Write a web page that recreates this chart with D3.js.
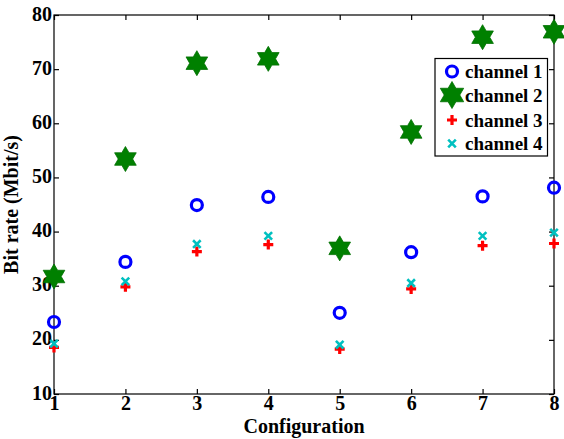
<!DOCTYPE html>
<html><head><meta charset="utf-8">
<script src="https://cdn.jsdelivr.net/npm/d3@7"></script>
<style>body{margin:0;background:#fff}svg{display:block}</style>
</head><body>
<script>
const configurations = [1,2,3,4,5,6,7,8];
const channel1 = [23.3, 34.4, 44.9, 46.4, 25.0, 36.2, 46.5, 48.1];
const channel2 = [31.7, 53.4, 71.1, 71.9, 36.9, 58.4, 75.9, 76.9];
const channel3 = [18.6, 29.8, 36.3, 37.6, 18.3, 29.4, 37.4, 37.8];
const channel4 = [19.3, 30.8, 37.7, 39.2, 19.1, 30.5, 39.2, 39.8];
const seriesNames = ["channel 1","channel 2","channel 3","channel 4"];
const xTicks = [1,2,3,4,5,6,7,8];
const yTicks = [10,20,30,40,50,60,70,80];

const W = 564, H = 439;
const m = {left:54, right:10, top:15, bottom:45};
const svg = d3.select("body").append("svg").attr("width",W).attr("height",H);
const x = d3.scaleLinear().domain([1,8]).range([m.left, W-m.right]);
const y = d3.scaleLinear().domain([10,80]).range([H-m.bottom, m.top]);
const font = "'Liberation Serif','Times New Roman',serif";

const g = svg.append("g");
g.append("rect").attr("x",x(1)).attr("y",y(80)).attr("width",x(8)-x(1)).attr("height",y(10)-y(80))
  .attr("fill","none").attr("stroke","#000").attr("stroke-width",1.2);

const tl = 5;
const xb = g.append("g").attr("transform",`translate(0,${y(10)})`)
  .call(d3.axisBottom(x).tickValues(xTicks).tickFormat(d3.format("d")).tickSize(-tl).tickPadding(2));
const xt = g.append("g").attr("transform",`translate(0,${y(80)})`)
  .call(d3.axisTop(x).tickValues(xTicks).tickFormat("").tickSize(-tl));
const yl = g.append("g").attr("transform",`translate(${x(1)},0)`)
  .call(d3.axisLeft(y).tickValues(yTicks).tickFormat(d3.format("d")).tickSize(-tl).tickPadding(2));
const yr = g.append("g").attr("transform",`translate(${x(8)},0)`)
  .call(d3.axisRight(y).tickValues(yTicks).tickFormat("").tickSize(-tl));
[xb,xt,yl,yr].forEach(a=>{
  a.select(".domain").remove();
  a.selectAll("line").attr("stroke","#000").attr("stroke-width",1.2);
  a.selectAll("text").attr("font-family",font).attr("font-weight","bold").attr("font-size",20).attr("fill","#000");
});
xb.selectAll("text").attr("dy","0.7em");
yl.selectAll("text").attr("dy","0.25em");

svg.append("text").attr("x",(x(1)+x(8))/2).attr("y",433).attr("text-anchor","middle")
  .attr("font-family",font).attr("font-weight","bold").attr("font-size",20).text("Configuration");
svg.append("text").attr("transform",`translate(18,${(y(10)+y(80))/2}) rotate(-90)`).attr("text-anchor","middle")
  .attr("font-family",font).attr("font-weight","bold").attr("font-size",20).text("Bit rate (Mbit/s)");

const hexR = 12.5;
function hexPath(R){
  const r = R/Math.sqrt(3); let p=[];
  for(let i=0;i<12;i++){const a=-Math.PI/2+i*Math.PI/6; const rr=i%2?r:R; p.push([rr*Math.cos(a), rr*Math.sin(a)]);}
  return "M"+p.map(q=>q.join(",")).join("L")+"Z";
}
function drawMarker(sel, type, big){
  if(type===0){
    sel.append("circle").attr("r",5.5).attr("fill","none").attr("stroke","#0000ff").attr("stroke-width",3.2);
  } else if(type===1){
    sel.append("path").attr("d",hexPath(big?13.5:hexR)).attr("fill","#008000").attr("stroke","#007000").attr("stroke-width",0.8);
  } else if(type===2){
    sel.append("path").attr("d","M-5,0H5M0,-5V5").attr("stroke","#ff0000").attr("stroke-width",3.2);
  } else {
    sel.append("path").attr("d","M-3.8,-3.8L3.8,3.8M-3.8,3.8L3.8,-3.8").attr("stroke","#00c0c0").attr("stroke-width",2.6);
  }
}
const series = [channel1, channel2, channel3, channel4];
series.forEach((s,si)=>{
  const gs = svg.append("g");
  s.forEach((v,i)=>{
    const mk = gs.append("g").attr("transform",`translate(${x(configurations[i])},${y(v)})`);
    drawMarker(mk, si, false);
  });
});

const lg = svg.append("g");
lg.append("rect").attr("x",435).attr("y",58.5).attr("width",112.5).attr("height",97.5)
  .attr("fill","#fff").attr("stroke","#000").attr("stroke-width",1.2);
const ly = [71.5, 95, 120, 143.5];
seriesNames.forEach((n,i)=>{
  const mk = lg.append("g").attr("transform",`translate(452,${ly[i]})`);
  drawMarker(mk,i,true);
  lg.append("text").attr("x",465).attr("y",ly[i]).attr("dy","0.35em")
    .attr("font-family",font).attr("font-weight","bold").attr("font-size",19).text(n);
});
</script>
</body></html>
